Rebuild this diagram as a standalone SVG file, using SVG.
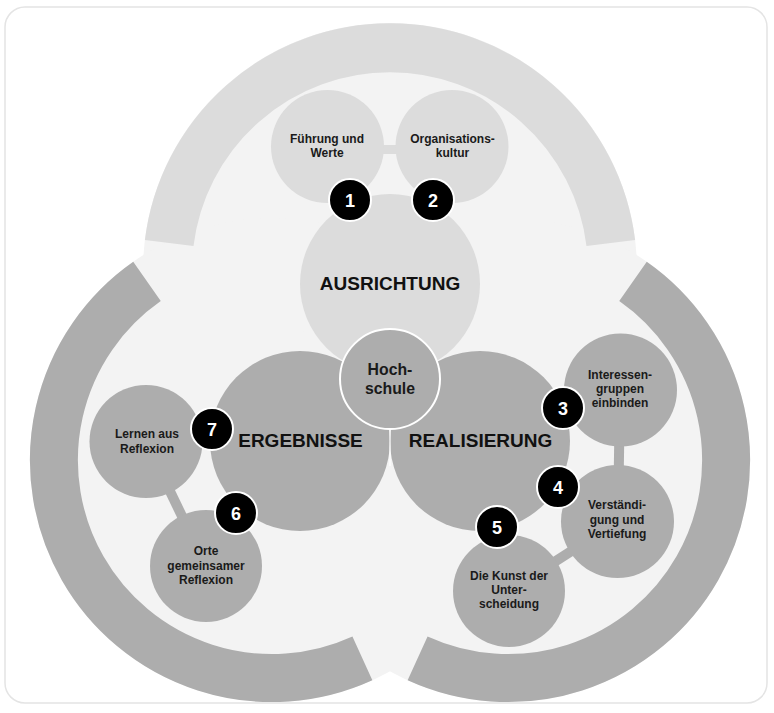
<svg xmlns="http://www.w3.org/2000/svg" width="774" height="713" viewBox="0 0 774 713">
<style>
.card{fill:#ffffff;stroke:#e4e4e4;stroke-width:1.5}
.bg{fill:#f3f3f3}
.arcL{fill:none;stroke:#dcdcdc;stroke-width:49}
.arcD{fill:none;stroke:#adadad;stroke-width:48}
.lt{fill:#dcdcdc}
.dk{fill:#adadad}
.hub{fill:#adadad;stroke:#ffffff;stroke-width:2}
.badge{fill:#000000;stroke:#ffffff;stroke-width:2}
.conL{stroke:#dcdcdc;stroke-width:9;fill:none}
.conD{stroke:#adadad;stroke-width:10;fill:none}
text{font-family:"Liberation Sans",Arial,sans-serif;font-weight:bold;text-anchor:middle}
.num{font-size:18px;fill:#ffffff}
.lbl{font-size:12px;fill:#1a1a1a}
.big{font-size:19px;fill:#111111}
.hubt{font-size:15.8px;fill:#1a1a1a}
</style>
<rect class="card" x="5" y="7" width="762" height="696" rx="20"/>
<g id="background">
<circle class="bg" cx="390" cy="270" r="247"/>
<circle class="bg" cx="272" cy="460" r="242"/>
<circle class="bg" cx="508" cy="460" r="242"/>
<path class="arcL" d="M169.2 242.9 A222.5 222.5 0 0 1 610.8 242.9"/>
<path class="arcD" d="M147 281.4 A218 218 0 0 0 362.4 658.4"/>
<path class="arcD" d="M633 281.4 A218 218 0 0 1 417.6 658.4"/>
</g>
<g id="connectors">
<line class="conL" x1="327" y1="149.5" x2="452" y2="149.5"/>
<line class="conD" x1="146" y1="441.5" x2="206" y2="566"/>
<line class="conD" x1="620" y1="390" x2="618" y2="521"/>
<line class="conD" x1="509" y1="591" x2="617.5" y2="521.5"/>
</g>
<g id="fuehrung"><circle class="lt" cx="327.5" cy="146.5" r="56.5"/><text class="lbl" x="327" y="143">Führung und</text><text class="lbl" x="327" y="157">Werte</text></g>
<g id="organisation"><circle class="lt" cx="452" cy="146.5" r="56.5"/><text class="lbl" x="452.5" y="143">Organisations-</text><text class="lbl" x="452.5" y="157">kultur</text></g>
<g id="ausrichtung"><circle class="lt" cx="390" cy="284" r="90"/><text class="big" x="390" y="290">AUSRICHTUNG</text></g>
<g id="ergebnisse"><circle class="dk" cx="300" cy="441" r="90"/><text class="big" x="300.5" y="447">ERGEBNISSE</text></g>
<g id="realisierung"><circle class="dk" cx="480" cy="441" r="90"/><text class="big" x="480.5" y="447">REALISIERUNG</text></g>
<line x1="390" y1="430" x2="390" y2="466" stroke="#ffffff" stroke-width="1.2"/>
<g id="hochschule"><circle class="hub" cx="390" cy="379" r="50"/><text class="hubt" x="390" y="375">Hoch-</text><text class="hubt" x="390" y="394">schule</text></g>
<g id="lernen"><circle class="dk" cx="146" cy="441.5" r="56.5"/><text class="lbl" x="147" y="438">Lernen aus</text><text class="lbl" x="147" y="452.5">Reflexion</text></g>
<g id="orte"><circle class="dk" cx="206" cy="566" r="56"/><text class="lbl" x="206" y="555">Orte</text><text class="lbl" x="206" y="569.5">gemeinsamer</text><text class="lbl" x="206" y="584">Reflexion</text></g>
<g id="interessen"><circle class="dk" cx="620.5" cy="390" r="56.5"/><text class="lbl" x="620" y="379">Interessen-</text><text class="lbl" x="620" y="393">gruppen</text><text class="lbl" x="620" y="407">einbinden</text></g>
<g id="verstaendigung"><circle class="dk" cx="617.5" cy="521.5" r="56.5"/><text class="lbl" x="617" y="509">Verständi-</text><text class="lbl" x="617" y="523.5">gung und</text><text class="lbl" x="617" y="538">Vertiefung</text></g>
<g id="kunst"><circle class="dk" cx="509" cy="591" r="56"/><text class="lbl" x="509" y="580">Die Kunst der</text><text class="lbl" x="509" y="594">Unter-</text><text class="lbl" x="509" y="608">scheidung</text></g>
<g id="badge1"><circle class="badge" cx="350" cy="200" r="21"/><text class="num" x="350" y="206.5">1</text></g>
<g id="badge2"><circle class="badge" cx="433" cy="200" r="21"/><text class="num" x="433" y="206.5">2</text></g>
<g id="badge3"><circle class="badge" cx="563" cy="408" r="21"/><text class="num" x="563" y="414.5">3</text></g>
<g id="badge4"><circle class="badge" cx="558" cy="487" r="21"/><text class="num" x="558" y="493.5">4</text></g>
<g id="badge5"><circle class="badge" cx="497" cy="527" r="21"/><text class="num" x="497" y="533.5">5</text></g>
<g id="badge6"><circle class="badge" cx="236" cy="513" r="21"/><text class="num" x="236" y="519.5">6</text></g>
<g id="badge7"><circle class="badge" cx="212" cy="429" r="21"/><text class="num" x="212" y="435.5">7</text></g>
</svg>
